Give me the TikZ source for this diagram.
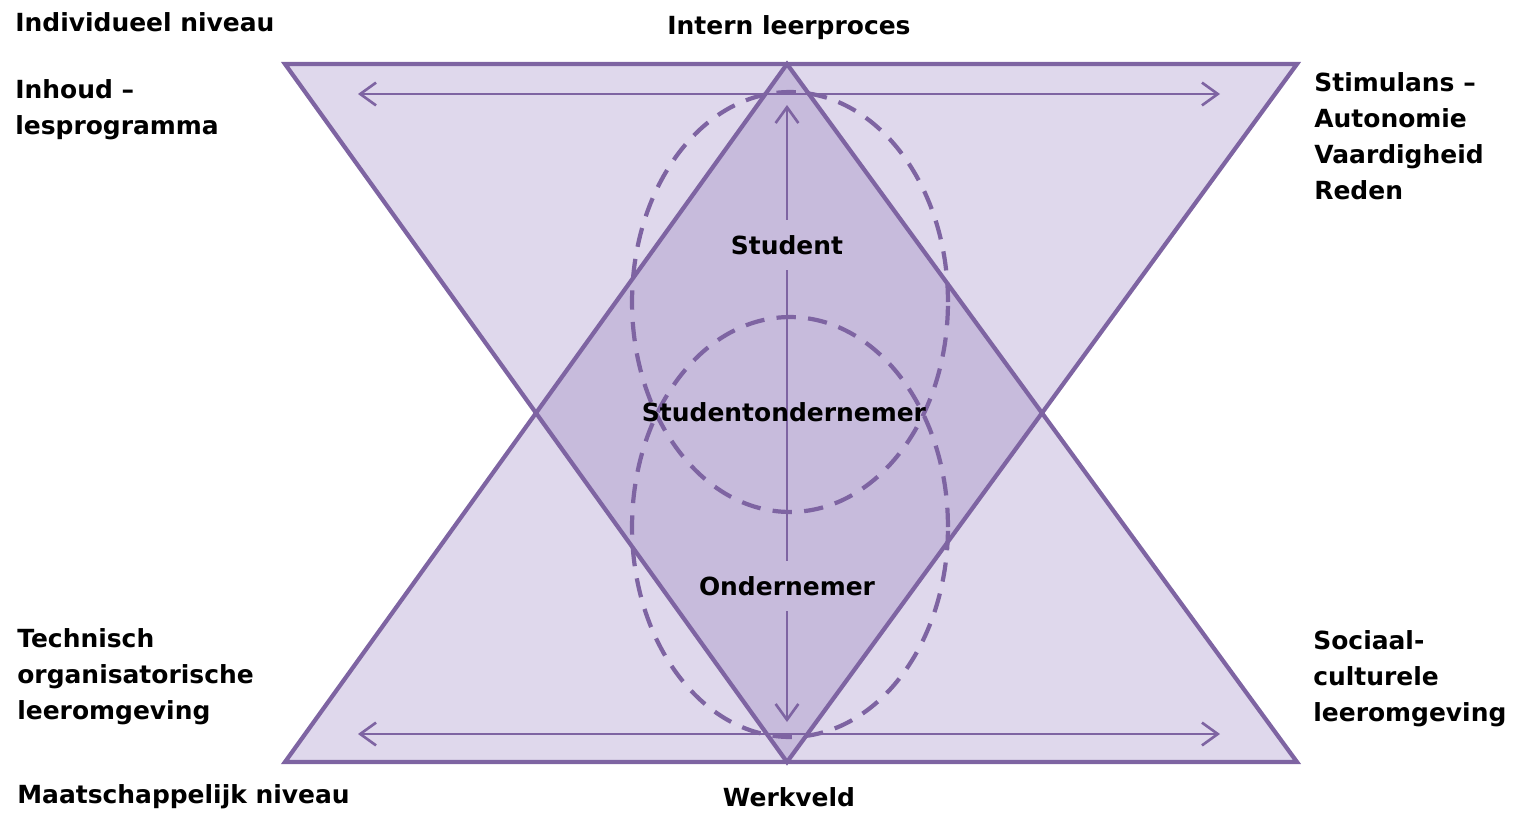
\documentclass[tikz,border=0pt]{standalone}
\usepackage{fontspec}
\setmainfont{DejaVu Sans}
\usetikzlibrary{arrows.meta}

\definecolor{lila}{RGB}{223,216,236}
\definecolor{lilad}{RGB}{199,187,220}
\definecolor{paars}{RGB}{126,100,162}

\begin{document}
\begin{tikzpicture}[x=0.02cm, y=-0.02cm,
  rand/.style={draw=paars, line width=2.4pt, line join=miter},
  pijl/.style={draw=paars, line width=1.5pt, {Straight Barb[length=9pt,width=13pt]}-{Straight Barb[length=9pt,width=13pt]}},
  stip/.style={draw=paars, line width=2.4pt, dash pattern=on 11pt off 7pt},
  tekst/.style={font=\fontsize{14.2}{20.5}\selectfont\bfseries, inner sep=0pt, align=left}]
\useasboundingbox (0,0) rectangle (1519,812);

% corners
\coordinate (lb) at (285,64);
\coordinate (rb) at (1297,64);
\coordinate (lo) at (285,762);
\coordinate (ro) at (1297,762);
\coordinate (top) at (787,64);
\coordinate (bot) at (787,762);
\coordinate (ml) at (536,413);
\coordinate (mr) at (1041,413);

% triangles
\fill[lila] (lb) -- (rb) -- (bot) -- cycle;
\fill[lila] (lo) -- (ro) -- (top) -- cycle;
\fill[lilad] (top) -- (mr) -- (bot) -- (ml) -- cycle;

% dashed ellipses
\draw[stip] (790,302) ellipse [x radius=3.16cm, y radius=4.2cm];
\draw[stip] (790,527) ellipse [x radius=3.16cm, y radius=4.2cm];

% arrows
\coordinate (hl1) at (358,94);
\coordinate (hr1) at (1220,94);
\coordinate (hl2) at (358,734);
\coordinate (hr2) at (1220,734);
\coordinate (vt) at (787,105);
\coordinate (vb) at (787,722);
\draw[pijl] (hl1) -- (hr1);
\draw[pijl] (hl2) -- (hr2);
\draw[pijl] (vt) -- (vb);

\draw[rand] (lb) -- (rb) -- (bot) -- cycle;
\draw[rand] (lo) -- (ro) -- (top) -- cycle;

% labels in the middle
\node[tekst, fill=lilad, inner xsep=2pt, inner ysep=9pt] (student) at (787,245) {Student};
\node[tekst] (stuo) at (784,412) {Studentondernemer};
\node[tekst, fill=lilad, inner xsep=2pt, inner ysep=9pt] (ond) at (787,586) {Ondernemer};

% labels around
\node[tekst, anchor=west] (indiv) at (15,22) {Individueel niveau};
\node[tekst, anchor=west] (inhoud) at (15,110) {Inhoud --\\lesprogramma};
\node[tekst] (intern) at (789,28) {Intern leerproces};
\node[tekst, anchor=west] (stim) at (1314,136) {Stimulans --\\Autonomie\\Vaardigheid\\Reden};
\node[tekst, anchor=west] (techn) at (17,677) {Technisch\\organisatorische\\leeromgeving};
\node[tekst, anchor=west] (sociaal) at (1313,679) {Sociaal-\\culturele\\leeromgeving};
\node[tekst, anchor=west] (maat) at (17,797) {Maatschappelijk niveau};
\node[tekst] (werk) at (789,797) {Werkveld};
\end{tikzpicture}
\end{document}
